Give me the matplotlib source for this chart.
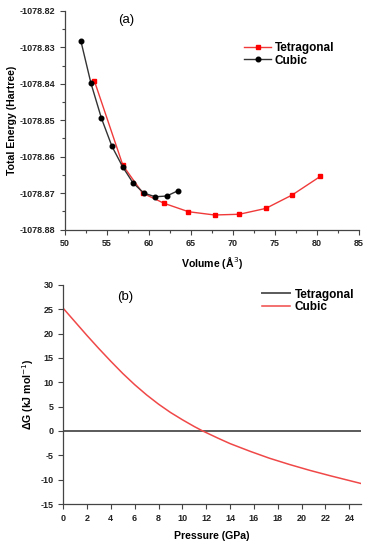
import matplotlib
matplotlib.use("Agg")
import matplotlib.pyplot as plt
from matplotlib.ticker import MultipleLocator, FormatStrFormatter

plt.rcParams['font.family'] = ['Liberation Sans', 'DejaVu Sans']
plt.rcParams['axes.unicode_minus'] = False

# Panel (a) data
cubic_vol = [51.9, 53.1, 54.35, 55.6, 56.9, 58.1, 59.4, 60.75, 62.1, 63.5]
cubic_E = [-1078.8283, -1078.8399, -1078.8495, -1078.8572, -1078.8629,
           -1078.8672, -1078.8700, -1078.8710, -1078.8708, -1078.8693]
tet_vol = [53.5, 56.9, 59.25, 61.8, 64.7, 67.8, 70.75, 73.9, 77.05, 80.4]
tet_E = [-1078.8392, -1078.8624, -1078.8700, -1078.8728, -1078.8751,
         -1078.8760, -1078.8758, -1078.8742, -1078.8705, -1078.8654]

# Panel (b) data
pressure = [0, 1.0, 2.0, 3.0, 4.0, 5.0, 6.0, 7.0, 8.0, 9.0, 10.0, 11.0, 11.7,
            13.0, 14.0, 15.7, 17.3, 19.0, 20.7, 22.4, 25.0]
dG_cubic = [25.2, 22.4, 19.6, 16.9, 14.3, 11.8, 9.5, 7.4, 5.5, 3.8, 2.3, 0.9, 0.0,
            -1.5, -2.6, -4.2, -5.6, -6.9, -8.1, -9.2, -10.8]
pressure_tet = [0, 25]
dG_tet = [0, 0]

fig = plt.figure(figsize=(3.69, 5.44), dpi=100)

tick_fs = 6.5
label_fs = 7.6
spine_col = '#444444'

def style(ax):
    for s in ['top', 'right']:
        ax.spines[s].set_visible(False)
    for s in ['left', 'bottom']:
        ax.spines[s].set_color(spine_col)
        ax.spines[s].set_linewidth(0.9)
    ax.tick_params(which='both', direction='out', colors=spine_col, width=0.8)
    ax.tick_params(which='major', length=3.5, labelsize=tick_fs, labelcolor='#222222')
    ax.tick_params(which='minor', length=2)
    for lab in ax.get_xticklabels() + ax.get_yticklabels():
        lab.set_fontweight('bold')

# Top panel
ax1 = fig.add_axes([0.176, 0.578, 0.797, 0.402])
ax1.plot(tet_vol, tet_E, color='#f03a3a', lw=1.0, marker='s', ms=3.3,
         mfc='#ff0000', mec='#ff0000', label='Tetragonal')
ax1.plot(cubic_vol, cubic_E, color='#333333', lw=1.0, marker='o', ms=3.3,
         mfc='black', mec='black', label='Cubic')
ax1.set_xlim(50, 85)
ax1.set_ylim(-1078.88, -1078.82)
ax1.xaxis.set_major_locator(MultipleLocator(5))
ax1.xaxis.set_minor_locator(MultipleLocator(2.5))
ax1.yaxis.set_major_locator(MultipleLocator(0.01))
ax1.yaxis.set_minor_locator(MultipleLocator(0.005))
ax1.yaxis.set_major_formatter(FormatStrFormatter('%.2f'))
style(ax1)
ax1.set_xlabel('Volume (Å$^3$)', fontsize=label_fs, fontweight='bold', labelpad=5)
ax1.set_ylabel('Total Energy (Hartree)', fontsize=label_fs, fontweight='bold', labelpad=2)
ax1.text(0.18, 0.985, '(a)', transform=ax1.transAxes, fontsize=9.5, va='top', ha='left')
ax1.legend(loc='upper left', bbox_to_anchor=(0.585, 0.89), frameon=False,
           prop={'weight': 'bold', 'size': 8.5}, handlelength=2.3,
           handletextpad=0.3, labelspacing=0.05, borderpad=0.1)

# Bottom panel
ax2 = fig.add_axes([0.171, 0.0735, 0.808, 0.403])
ax2.plot(pressure_tet, dG_tet, color='#5a5a5a', lw=1.4, label='Tetragonal')
ax2.plot(pressure, dG_cubic, color='#f04848', lw=1.1, label='Cubic')
ax2.set_xlim(0, 25)
ax2.set_ylim(-15, 30)
ax2.xaxis.set_major_locator(MultipleLocator(2))
ax2.yaxis.set_major_locator(MultipleLocator(5))
style(ax2)
ax2.set_xlabel('Pressure (GPa)', fontsize=label_fs, fontweight='bold', labelpad=6)
ax2.set_ylabel('ΔG (kJ mol$^{-1}$)', fontsize=label_fs, fontweight='bold', labelpad=3)
ax2.text(0.18, 0.97, '(b)', transform=ax2.transAxes, fontsize=9.5, va='top', ha='left')
ax2.legend(loc='upper right', bbox_to_anchor=(1.0, 1.015), frameon=False,
           prop={'weight': 'bold', 'size': 8.5}, handlelength=2.4,
           handletextpad=0.4, labelspacing=0.05, borderpad=0.1)

fig.savefig('out.png', dpi=100)
